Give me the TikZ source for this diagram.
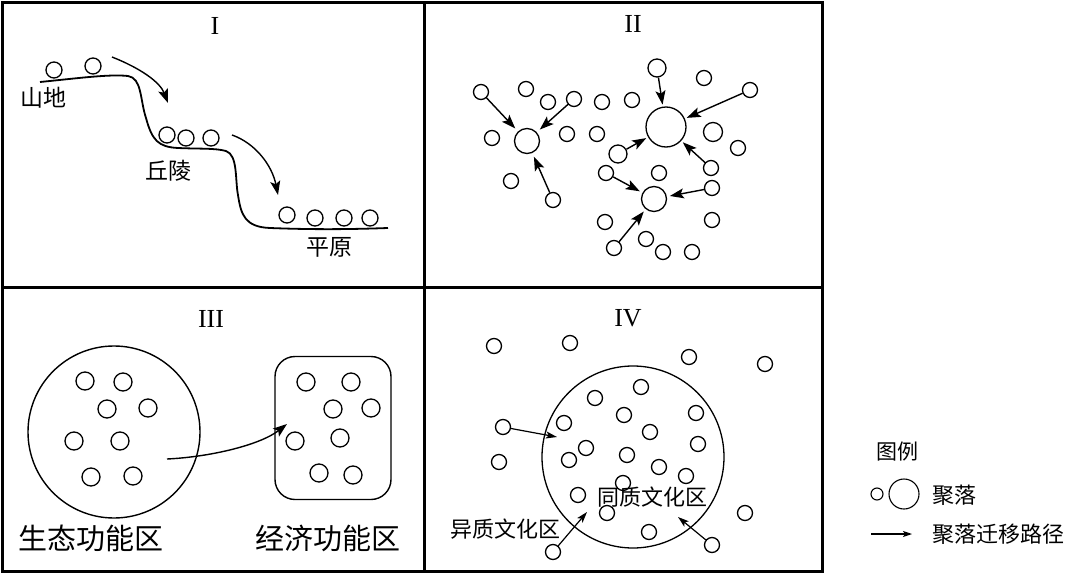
\documentclass[tikz,border=0pt]{standalone}
\usepackage{fontspec}
\setmainfont{Liberation Serif}
\newfontfamily\cjk{Noto Sans CJK SC}
\usetikzlibrary{arrows.meta}

\begin{document}
\begin{tikzpicture}[x=1pt, y=-1pt,
  settle/.style={circle, draw, line width=1.3pt, inner sep=0pt, minimum size=#1},
  settle/.default=15pt,
  mig/.style={-{Stealth[length=14pt,width=10pt,inset=3pt]}, line width=1.4pt},
  thinmig/.style={-{Stealth[length=11pt,width=7pt,inset=2.5pt]}, line width=1.2pt},
  numeral/.style={font=\fontsize{26}{26}\selectfont, inner sep=0pt},
  zh/.style={font=\cjk\fontsize{#1}{#1}\selectfont, inner sep=0pt}]
  \useasboundingbox (0,0) rectangle (1080,573);

  % Frame and panel dividers
  \draw[line width=3pt] (2,2) rectangle (822,571);
  \draw[line width=3pt] (424,2) -- (424,571);
  \draw[line width=3pt] (2,287) -- (822,287);

  % Panel I: terrain steps
  \node[numeral] (tI) at (215,26) {I};
  \draw[line width=1.8pt] (40,82) .. controls (80,78) and (110,74) .. (128,76)
    .. controls (142,78) and (140,100) .. (146,118)
    .. controls (152,140) and (158,147) .. (178,148)
    .. controls (200,149) and (215,148) .. (226,151)
    .. controls (238,155) and (235,180) .. (238,195)
    .. controls (241,215) and (245,227) .. (270,228)
    .. controls (320,230) and (360,229) .. (388,228);
  \node[settle=16pt] (m1) at (54,70) {};
  \node[settle=16pt] (m2) at (93,66) {};
  \node[settle=16pt] (h1) at (167,135) {};
  \node[settle=16pt] (h2) at (186,138) {};
  \node[settle=16pt] (h3) at (211,138) {};
  \node[settle=16pt] (p1) at (287,215) {};
  \node[settle=16pt] (p2) at (315,218) {};
  \node[settle=16pt] (p3) at (344,218) {};
  \node[settle=16pt] (p4) at (370,218) {};
  \node[zh=23] (mountain) at (43,98) {山地};
  \node[zh=23] (hill) at (168,171) {丘陵};
  \node[zh=23] (plain) at (329,247) {平原};
  \coordinate (up1) at (112,57);   \coordinate (down1) at (168,103);
  \coordinate (up2) at (232,135);  \coordinate (down2) at (278,195);
  \draw[mig] (up1) .. controls (140,68) and (160,82) .. (down1);
  \draw[mig] (up2) .. controls (255,143) and (272,165) .. (down2);

  % Panel II: settlements gathering into centres
  \node[numeral] (tII) at (633,24) {II};
  \node[settle=25pt] (hubA) at (527,141) {};
  \node[settle=40pt] (hubB) at (666,127) {};
  \node[settle=25pt] (hubC) at (654,199) {};
  \node[settle] (s1) at (481,92) {};
  \node[settle] (s2) at (526,89) {};
  \node[settle] (s3) at (548,102) {};
  \node[settle] (s4) at (574,99) {};
  \node[settle] (s5) at (602,102) {};
  \node[settle] (s6) at (632,100) {};
  \node[settle=18pt] (s7) at (657,68) {};
  \node[settle] (s8) at (704,78) {};
  \node[settle] (s9) at (750,90) {};
  \node[settle] (s10) at (492,138) {};
  \node[settle] (s11) at (567,134) {};
  \node[settle] (s12) at (597,134) {};
  \node[settle=19pt] (s13) at (713,132) {};
  \node[settle] (s14) at (738,148) {};
  \node[settle=18pt] (s15) at (618,154) {};
  \node[settle] (s16) at (711,168) {};
  \node[settle] (s17) at (606,173) {};
  \node[settle] (s18) at (659,173) {};
  \node[settle] (s19) at (712,188) {};
  \node[settle] (s20) at (511,181) {};
  \node[settle] (s21) at (553,200) {};
  \node[settle] (s22) at (605,222) {};
  \node[settle] (s23) at (712,220) {};
  \node[settle] (s24) at (646,239) {};
  \node[settle] (s25) at (614,248) {};
  \node[settle] (s26) at (663,252) {};
  \node[settle] (s27) at (692,252) {};
  \draw[mig, shorten >=4pt] (s1) -- (hubA);
  \draw[mig, shorten >=4pt] (s4) -- (hubA);
  \draw[mig, shorten >=4pt] (s21) -- (hubA);
  \draw[mig, shorten >=2pt] (s7) -- (hubB);
  \draw[mig, shorten >=2pt] (s9) -- (hubB);
  \draw[mig, shorten >=2pt] (s15) -- (hubB);
  \draw[mig, shorten >=2pt] (s16) -- (hubB);
  \draw[mig, shorten >=3pt] (s17) -- (hubC);
  \draw[mig, shorten >=3pt] (s19) -- (hubC);
  \draw[mig, shorten >=3pt] (s25) -- (hubC);

  % Panel III: ecological zone to economic zone
  \node[numeral] (tIII) at (211,319) {III};
  \node[circle, draw, line width=1.4pt, minimum size=172pt, inner sep=0pt] (eco) at (114,432) {};
  \node[draw, line width=1.4pt, rounded corners=20pt, minimum width=116pt,
        minimum height=143pt, inner sep=0pt] (econ) at (333,428) {};
  \node[settle=18pt] (e1) at (85,381) {};
  \node[settle=18pt] (e2) at (123,382) {};
  \node[settle=18pt] (e3) at (107,409) {};
  \node[settle=18pt] (e4) at (148,408) {};
  \node[settle=18pt] (e5) at (74,441) {};
  \node[settle=18pt] (e6) at (120,441) {};
  \node[settle=18pt] (e7) at (91,477) {};
  \node[settle=18pt] (e8) at (133,476) {};
  \node[settle=18pt] (c1) at (306,382) {};
  \node[settle=18pt] (c2) at (351,382) {};
  \node[settle=18pt] (c3) at (333,409) {};
  \node[settle=18pt] (c4) at (371,408) {};
  \node[settle=18pt] (c5) at (295,441) {};
  \node[settle=18pt] (c6) at (340,438) {};
  \node[settle=18pt] (c7) at (319,473) {};
  \node[settle=18pt] (c8) at (353,475) {};
  \coordinate (ecoout) at (167,459);
  \coordinate (econin) at (287,424);
  \draw[mig] (ecoout) .. controls (210,457) and (260,445) .. (econin);
  \node[zh=29] (ecolabel) at (91,538) {生态功能区};
  \node[zh=29] (econlabel) at (328,538) {经济功能区};

  % Panel IV: culture zones
  \node[numeral] (tIV) at (628,318) {IV};
  \node[circle, draw, line width=1.3pt, minimum size=182pt, inner sep=0pt] (cult) at (633,457) {};
  \node[settle] (q1) at (494,346) {};
  \node[settle] (q2) at (570,343) {};
  \node[settle] (q3) at (689,357) {};
  \node[settle] (q4) at (765,364) {};
  \node[settle] (q5) at (503,427) {};
  \node[settle] (q6) at (499,462) {};
  \node[settle] (q7) at (745,513) {};
  \node[settle] (q8) at (553,552) {};
  \node[settle] (q9) at (712,545) {};
  \node[settle] (r1) at (595,398) {};
  \node[settle] (r2) at (641,387) {};
  \node[settle] (r3) at (624,415) {};
  \node[settle] (r4) at (696,413) {};
  \node[settle] (r5) at (564,423) {};
  \node[settle] (r6) at (650,432) {};
  \node[settle] (r7) at (586,448) {};
  \node[settle] (r8) at (698,444) {};
  \node[settle] (r9) at (569,460) {};
  \node[settle] (r10) at (627,455) {};
  \node[settle] (r11) at (659,467) {};
  \node[settle] (r12) at (686,476) {};
  \node[settle] (r13) at (623,483) {};
  \node[settle] (r14) at (578,495) {};
  \node[settle] (r15) at (607,513) {};
  \node[settle] (r16) at (649,532) {};
  \coordinate (in1) at (557,437);
  \coordinate (in2) at (587,512);
  \coordinate (in3) at (678,517);
  \draw[thinmig] (q5) -- (in1);
  \draw[thinmig] (q8) -- (in2);
  \draw[thinmig] (q9) -- (in3);
  \node[zh=22] (same) at (652,497) {同质文化区};
  \node[zh=22] (other) at (505,529) {异质文化区};

  % Legend
  \node[zh=21] (legend) at (897,452) {图例};
  \node[settle=12pt, line width=1.1pt] (legsmall) at (877,494) {};
  \node[settle=30pt, line width=1.1pt] (legbig) at (904,494) {};
  \node[zh=22, anchor=west] (legsettle) at (932,495) {聚落};
  \coordinate (legA) at (871,534);
  \coordinate (legB) at (912,534);
  \draw[-{Stealth[length=9pt,width=6pt,inset=2pt]}, line width=1.1pt] (legA) -- (legB);
  \node[zh=22, anchor=west] (legroute) at (932,534) {聚落迁移路径};
\end{tikzpicture}
\end{document}
